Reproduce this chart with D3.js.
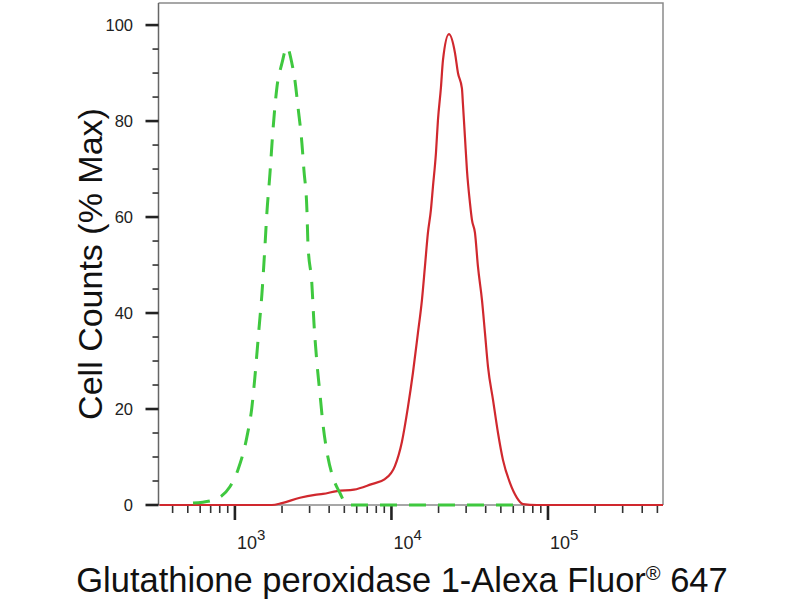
<!DOCTYPE html>
<html>
<head>
<meta charset="utf-8">
<script src="https://cdn.jsdelivr.net/npm/d3@7"></script>
<style>
  body { margin: 0; background: #fff; }
  svg { display: block; font-family: "Liberation Sans", Arial, sans-serif; }
</style>
</head>
<body>
<svg id="chart" width="800" height="600"></svg>
<script>
// control (isotype) histogram, green dashed
const controlIntensity = [540, 723, 929, 1045, 1193, 1284, 1342, 1423, 1488, 1555, 1600, 1674, 1749, 1855, 1996, 2149,
  2313, 2417, 2528, 2679, 2760, 2884, 2927, 3103, 3198, 3342, 3491, 3648, 3926, 4227, 4688, 5196, 61500];
const controlCounts = [0.4, 1, 3.8, 7.3, 14.2, 20.4, 26.7, 36.5, 44, 53.8, 60.8, 69, 78, 87, 92, 95.4,
  92, 88.5, 83, 75.4, 69.8, 61.5, 54.6, 46, 38, 29.6, 23.3, 17, 10, 5.8, 2.5, 0, 0];

// stained sample histogram, red solid
const sampleIntensity = [330, 1723, 1996, 2602, 3243, 3651, 4487, 5759, 7393, 9085, 10520, 11670, 12745, 13714, 14760,
  15660, 16360, 17100, 17870, 18410, 19240, 19820, 20710, 21340, 23290, 25460, 26610, 28200, 28620, 29480, 30360,
  31750, 32680, 34170, 35720, 37880, 39590, 41390, 44550, 47950, 51560, 57160, 63370, 69240, 85100, 543000];
const sampleCounts = [0, 0, 0.4, 1.5, 2.1, 2.3, 2.9, 3.2, 4.3, 5.4, 8.1, 13.2, 20.4, 27.5, 35.8,
  42.7, 49.6, 56.7, 61.5, 66.3, 73.3, 80.2, 87, 92.7, 98.1, 94.2, 90, 86.8, 83.6, 76.7, 69.8,
  62.9, 59.4, 56.7, 49.6, 42.7, 35.8, 28.8, 21.9, 15, 9.4, 4.6, 1.5, 0.2, 0, 0];

const yMajorTicks = [0, 20, 40, 60, 80, 100];
const xDecades = [1000, 10000, 100000];
const xDecadeExponents = ['3', '4', '5'];

const svg = d3.select('#chart');

const x = d3.scaleLog()
    .domain([325, 543000])
    .range([158.5, 663]);
const y = d3.scaleLinear()
    .domain([0, 104.6])
    .range([505, 3]);

// frame: top and right borders, then the two axis lines
svg.append('path')
    .attr('d', `M${x.range()[0]},${y.range()[1]}H${x.range()[1]}V${y.range()[0]}`)
    .attr('fill', 'none')
    .attr('stroke', '#8a8a8a')
    .attr('stroke-width', 1.5);
svg.append('line')
    .attr('x1', x.range()[0]).attr('x2', x.range()[1])
    .attr('y1', y(0)).attr('y2', y(0))
    .attr('stroke', '#8a8a8a')
    .attr('stroke-width', 1.5);
svg.append('line')
    .attr('x1', x.range()[0]).attr('x2', x.range()[0])
    .attr('y1', y.range()[0]).attr('y2', y.range()[1])
    .attr('stroke', '#666')
    .attr('stroke-width', 1.5);

// y ticks
const yMinor = d3.range(0, 101, 5).filter(v => !yMajorTicks.includes(v));
svg.append('g').selectAll('line')
    .data(yMinor)
    .join('line')
    .attr('x1', x.range()[0] - 6).attr('x2', x.range()[0])
    .attr('y1', d => y(d)).attr('y2', d => y(d))
    .attr('stroke', '#333')
    .attr('stroke-width', 1.6);
svg.append('g').selectAll('line')
    .data(yMajorTicks)
    .join('line')
    .attr('x1', x.range()[0] - 13).attr('x2', x.range()[0])
    .attr('y1', d => y(d)).attr('y2', d => y(d))
    .attr('stroke', '#222')
    .attr('stroke-width', 2.6);
svg.append('g').selectAll('text')
    .data(yMajorTicks)
    .join('text')
    .attr('x', 133)
    .attr('y', d => y(d))
    .attr('dy', '0.36em')
    .attr('text-anchor', 'end')
    .attr('font-size', 16.5)
    .attr('fill', '#222')
    .text(d => d);

// x ticks (log decades plus 2..9 minors)
const xMinor = x.ticks().filter(v => !xDecades.includes(v));
svg.append('g').selectAll('line')
    .data(xMinor)
    .join('line')
    .attr('x1', d => x(d)).attr('x2', d => x(d))
    .attr('y1', y(0) + 1).attr('y2', y(0) + 8)
    .attr('stroke', '#333')
    .attr('stroke-width', 1.6);
svg.append('g').selectAll('line')
    .data(xDecades)
    .join('line')
    .attr('x1', d => x(d)).attr('x2', d => x(d))
    .attr('y1', y(0) + 1).attr('y2', y(0) + 15)
    .attr('stroke', '#222')
    .attr('stroke-width', 2.6);
const xLabels = svg.append('g').selectAll('text')
    .data(xDecades)
    .join('text')
    .attr('x', d => x(d) + 2)
    .attr('y', 549)
    .attr('font-size', 18)
    .attr('fill', '#222');
xLabels.append('tspan').text('10');
xLabels.append('tspan')
    .attr('font-size', 15)
    .attr('dy', -9)
    .text((d, i) => xDecadeExponents[i]);

// histograms
const line = d3.line()
    .x(d => x(d[0]))
    .y(d => y(d[1]))
    .curve(d3.curveMonotoneX);

svg.append('path')
    .datum(d3.zip(sampleIntensity, sampleCounts))
    .attr('fill', 'none')
    .attr('stroke', '#d0282e')
    .attr('stroke-width', 2.2)
    .attr('d', line);

svg.append('path')
    .datum(d3.zip(controlIntensity, controlCounts))
    .attr('fill', 'none')
    .attr('stroke', '#3fc83f')
    .attr('stroke-width', 3)
    .attr('stroke-dasharray', '17,12')
    .attr('d', line);

// axis titles
svg.append('text')
    .attr('transform', 'translate(102,264) rotate(-90)')
    .attr('text-anchor', 'middle')
    .attr('font-size', 34)
    .attr('fill', '#111')
    .text('Cell Counts (% Max)');

const xTitle = svg.append('text')
    .attr('x', 402)
    .attr('y', 592)
    .attr('text-anchor', 'middle')
    .attr('font-size', 34.5)
    .attr('fill', '#111');
xTitle.append('tspan').text('Glutathione peroxidase 1-Alexa Fluor');
xTitle.append('tspan').attr('font-size', 20).attr('dy', -12).text('®');
xTitle.append('tspan').attr('dy', 12).text(' 647');
</script>
</body>
</html>
